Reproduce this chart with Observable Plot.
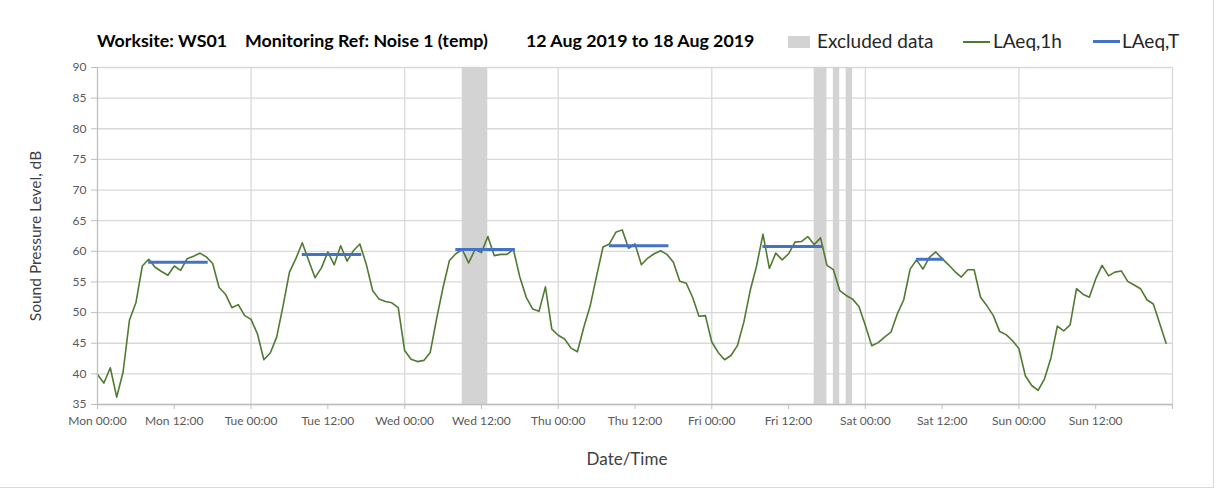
<!DOCTYPE html>
<html><head><meta charset="utf-8">
<script src="https://cdn.jsdelivr.net/npm/d3@7"></script>
<script src="https://cdn.jsdelivr.net/npm/@observablehq/plot@0.6"></script>
<style>
body{margin:0;background:#fff;font-family:Lato,"Open Sans",sans-serif;}
#wrap{position:relative;width:1227px;height:497px;overflow:hidden;background:#fff}
#frame{position:absolute;left:0;top:0;width:1213px;height:487px;border-right:1px solid #d9d9d9;border-bottom:1px solid #d9d9d9;pointer-events:none}
#head{position:relative;height:55px;}
.t{position:absolute;top:30px;font-weight:bold;font-size:17.8px;line-height:20px;color:#000;white-space:nowrap}
.l{position:absolute;top:30px;font-size:19px;line-height:22px;color:#262626;white-space:nowrap}
.sw{position:absolute}
#chart svg{display:block}
</style></head>
<body><div id="wrap"><div id="head"></div><div id="chart"></div><div id="frame"></div></div>
<script>
// ---- data ----
const titleParts = ["Worksite: WS01", "Monitoring Ref: Noise 1 (temp)", "12 Aug 2019 to 18 Aug 2019"];
const legendNames = ["Excluded data", "LAeq,1h", "LAeq,T"];
const yLabel = "Sound Pressure Level, dB";
const xLabel = "Date/Time";
const yTicks = [35, 40, 45, 50, 55, 60, 65, 70, 75, 80, 85, 90];
const xTickHours = [0, 12, 24, 36, 48, 60, 72, 84, 96, 108, 120, 132, 144, 156, 168];
const xTickLabels = ["Mon 00:00", "Mon 12:00", "Tue 00:00", "Tue 12:00", "Wed 00:00", "Wed 12:00",
  "Thu 00:00", "Thu 12:00", "Fri 00:00", "Fri 12:00", "Sat 00:00", "Sat 12:00", "Sun 00:00", "Sun 12:00"];
const dayGrid = [24, 48, 72, 96, 120, 144, 168];
// hourly LAeq,1h, Mon 00:00 .. Sun 23:00
const laeq1h = [
  39.9, 38.5, 41.0, 36.2, 40.3, 48.8, 51.6, 57.6, 58.7, 57.4, 56.7, 56.1, 57.6, 56.9, 58.8, 59.2, 59.7, 59.1, 58.0, 54.1, 53.0, 50.8, 51.3, 49.5,
  48.9, 46.5, 42.3, 43.4, 46.0, 51.1, 56.6, 58.8, 61.4, 58.5, 55.7, 57.3, 59.9, 57.8, 60.9, 58.4, 60.1, 61.2, 57.9, 53.6, 52.2, 51.8, 51.6, 50.8,
  43.8, 42.4, 42.0, 42.2, 43.5, 49.0, 54.1, 58.5, 59.6, 60.3, 58.1, 60.3, 59.8, 62.4, 59.3, 59.5, 59.5, 60.3, 55.8, 52.5, 50.6, 50.2, 54.2, 47.3,
  46.3, 45.7, 44.2, 43.6, 47.6, 51.1, 56.0, 60.7, 61.2, 63.1, 63.5, 60.5, 61.2, 57.8, 58.9, 59.6, 60.1, 59.5, 58.2, 55.1, 54.8, 52.5, 49.4, 49.5,
  45.2, 43.5, 42.3, 43.0, 44.6, 48.4, 53.6, 57.6, 62.8, 57.2, 59.7, 58.6, 59.6, 61.5, 61.6, 62.4, 61.1, 62.2, 57.7, 57.0, 53.6, 52.8, 52.2, 51.0,
  47.9, 44.6, 45.1, 46.0, 46.8, 49.8, 52.1, 57.1, 58.6, 57.1, 59.0, 59.9, 58.8, 57.8, 56.7, 55.8, 57.0, 57.0, 52.5, 51.1, 49.5, 46.9, 46.4, 45.4,
  44.1, 39.7, 38.1, 37.3, 39.2, 42.6, 47.8, 47.0, 48.0, 53.9, 53.0, 52.5, 55.5, 57.7, 56.0, 56.6, 56.8, 55.1, 54.5, 53.9, 52.1, 51.4, 48.2, 45.0
];
// LAeq,T periods (hours from Mon 00:00)
const periodStart = [8, 32, 56, 80, 104, 128];
const periodEnd = [17.3, 41.3, 65.3, 89.3, 113.3, 132.3];
const periodLevel = [58.2, 59.5, 60.3, 60.9, 60.8, 58.7];
// excluded data (hours from Mon 00:00)
const excludedStart = [57, 112, 115, 117];
const excludedEnd = [61, 114, 116, 118];

// ---- colours ----
const green = "#507a31", blue = "#4472c4", band = "#d3d3d3", grid = "#d9d9d9";

// ---- header ----
const head = document.getElementById("head");
const titleLeft = [97, 245, 526];
titleParts.forEach((t, i) => {
  const s = document.createElement("div"); s.className = "t"; s.style.left = titleLeft[i] + "px"; s.textContent = t; head.appendChild(s);
});
function sw(left, top, w, h, c) {
  const d = document.createElement("div"); d.className = "sw";
  Object.assign(d.style, {left: left + "px", top: top + "px", width: w + "px", height: h + "px", background: c});
  head.appendChild(d);
}
sw(788, 36, 22, 12, band);
sw(963, 41, 27, 1.5, green);
sw(1093, 40, 27, 3, blue);
const legLeft = [817, 993, 1122];
legendNames.forEach((t, i) => {
  const s = document.createElement("div"); s.className = "l"; s.style.left = legLeft[i] + "px"; s.textContent = t; head.appendChild(s);
});

// ---- chart ----
const hourly = laeq1h.map((v, i) => ({hour: i, level: v}));
const periods = periodStart.map((s, i) => ({start: s, end: periodEnd[i], level: periodLevel[i]}));
const excluded = excludedStart.map((s, i) => ({start: s, end: excludedEnd[i]}));

const chart = Plot.plot({
  width: 1227, height: 442,
  marginTop: 12, marginBottom: 93, marginLeft: 97, marginRight: 55,
  style: {fontFamily: "Lato, 'Open Sans', sans-serif", fontSize: "12px", color: "#595959", background: "#fff"},
  x: {domain: [0, 168]},
  y: {domain: [35, 90]},
  marks: [
    Plot.ruleY(yTicks, {stroke: grid, strokeWidth: 1.3}),
    Plot.ruleX(dayGrid, {stroke: grid, strokeWidth: 1.3}),
    Plot.rect(excluded, {x1: "start", x2: "end", fill: band}),
    Plot.line(hourly, {x: "hour", y: "level", stroke: green, strokeWidth: 1.6}),
    Plot.ruleY(periods, {x1: "start", x2: "end", y: "level", stroke: blue, strokeWidth: 3}),
    Plot.ruleX([0], {stroke: "#bfbfbf", strokeWidth: 1.3}),
    Plot.ruleY([35], {stroke: "#bfbfbf", strokeWidth: 1.3}),
    Plot.axisY({ticks: yTicks, tickSize: 6, tickPadding: 5, stroke: "#bfbfbf", fill: "#595959", label: null, fontSize: 12}),
    Plot.axisX({ticks: xTickHours, tickSize: 5, tickPadding: 7, stroke: "#bfbfbf", fill: "#595959", label: null, fontSize: 12,
      tickFormat: d => xTickLabels[d / 12] ?? ""}),
    Plot.text([yLabel], {frameAnchor: "left", textAnchor: "middle", rotate: -90, dx: -61, fontSize: 15.5, fill: "#404040"}),
    Plot.text([xLabel], {frameAnchor: "bottom", dy: 60, dx: -8, fontSize: 17, fill: "#404040"})
  ]
});
document.getElementById("chart").appendChild(chart);
</script>
</body></html>
